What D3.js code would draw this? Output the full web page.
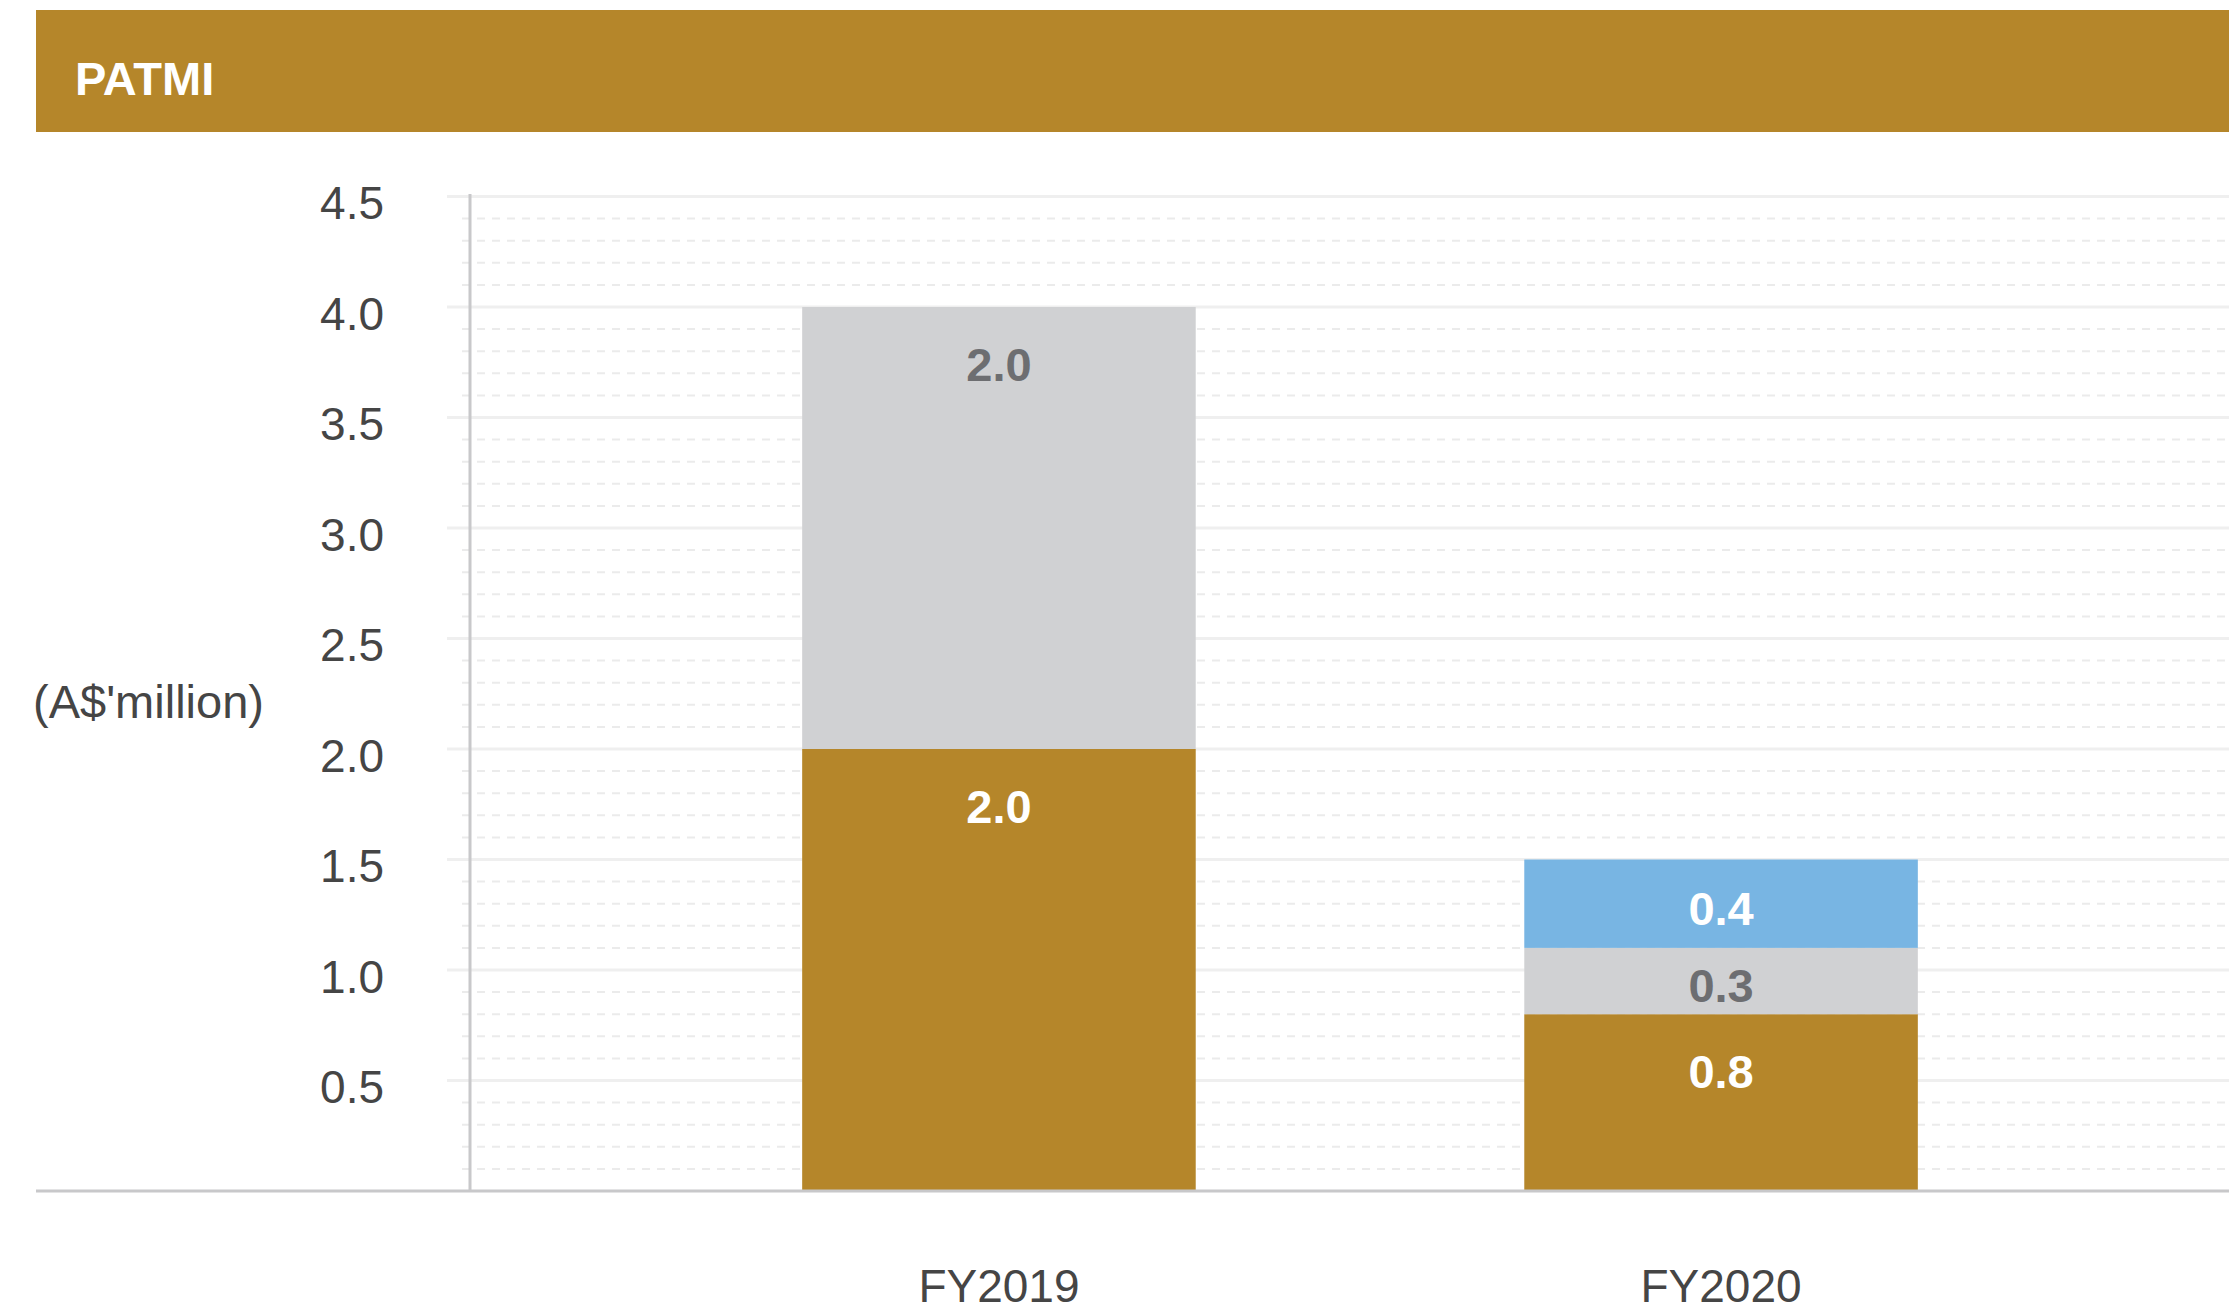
<!DOCTYPE html>
<html>
<head>
<meta charset="utf-8">
<script src="https://cdn.jsdelivr.net/npm/d3@7"></script>
<style>
  html, body { margin: 0; padding: 0; background: #ffffff; }
  svg { display: block; }
  text { font-family: "Liberation Sans", Arial, Helvetica, sans-serif; }
</style>
</head>
<body>
<svg id="chart" width="2229" height="1311"></svg>
<script>
// PATMI by financial year, stacked components (A$ million)
const categories = ["FY2019", "FY2020"];
const seriesKeys = ["base", "middle", "top"];
const baseValues = [2.0, 0.8];
const middleValues = [2.0, 0.3];
const topValues = [0, 0.4];
const yTicks = [0.5, 1.0, 1.5, 2.0, 2.5, 3.0, 3.5, 4.0, 4.5];
const minorTicks = d3.range(1, 45).map(i => i / 10).filter(v => Math.round(v * 10) % 5 !== 0);
const title = "PATMI";
const unitLabel = "(A$'million)";

const colors = { base: "#b5862a", middle: "#d0d1d3", top: "#78b5e3" };
const labelColors = { base: "#ffffff", middle: "#6d6e71", top: "#ffffff" };

const rows = categories.map((c, i) => ({
  category: c, base: baseValues[i], middle: middleValues[i], top: topValues[i]
}));

const W = 2229, H = 1311;
const axisX = 470;
const svg = d3.select("#chart");

const x = d3.scaleBand()
  .domain(categories)
  .range([axisX, 2250])
  .paddingInner(0.455)
  .paddingOuter(0.46);

const y = d3.scaleLinear().domain([0, 4.5]).range([1191, 196.5]);

// header band
svg.append("rect")
  .attr("x", 36).attr("y", 10)
  .attr("width", W - 36).attr("height", 122)
  .attr("fill", "#b5862a");
svg.append("text")
  .attr("x", 75).attr("y", 95)
  .attr("fill", "#ffffff")
  .attr("font-size", 47)
  .attr("font-weight", "bold")
  .text(title);

// minor dashed gridlines
svg.append("g")
  .selectAll("line")
  .data(minorTicks)
  .join("line")
  .attr("x1", 462).attr("x2", W)
  .attr("y1", d => y(d)).attr("y2", d => y(d))
  .attr("stroke", "#ebebeb")
  .attr("stroke-width", 2)
  .attr("stroke-dasharray", "8 7");

// major gridlines
svg.append("g")
  .selectAll("line")
  .data(yTicks)
  .join("line")
  .attr("x1", 447).attr("x2", W)
  .attr("y1", d => y(d)).attr("y2", d => y(d))
  .attr("stroke", "#efefef")
  .attr("stroke-width", 3);

// y tick labels
const yAxis = d3.axisLeft(y)
  .tickValues(yTicks)
  .tickFormat(d3.format(".1f"))
  .tickSize(0)
  .tickPadding(0);
const gy = svg.append("g")
  .attr("transform", "translate(384,0)")
  .call(yAxis);
gy.select(".domain").remove();
gy.selectAll("text")
  .attr("font-family", "Liberation Sans, Arial, sans-serif")
  .attr("font-size", 46)
  .attr("fill", "#454545")
  .attr("dy", "0.48em");

// unit label
svg.append("text")
  .attr("x", 33).attr("y", 718)
  .attr("font-size", 47)
  .attr("fill", "#454545")
  .text(unitLabel);

// stacked bars
const stacked = d3.stack().keys(seriesKeys)(rows);
const layers = svg.append("g")
  .selectAll("g")
  .data(stacked)
  .join("g")
  .attr("fill", d => colors[d.key]);

layers.selectAll("rect")
  .data(d => d.filter(s => s[1] - s[0] > 0))
  .join("rect")
  .attr("x", d => x(d.data.category))
  .attr("width", x.bandwidth())
  .attr("y", d => y(d[1]))
  .attr("height", d => y(d[0]) - y(d[1]));

// value labels inside segments
const labels = svg.append("g");
stacked.forEach(layer => {
  layer.forEach(seg => {
    const v = seg[1] - seg[0];
    if (v <= 0) return;
    const top = y(seg[1]);
    const h = y(seg[0]) - top;
    const cy = top + Math.min(h / 2 + 4, 57);
    labels.append("text")
      .attr("x", x(seg.data.category) + x.bandwidth() / 2)
      .attr("y", cy + 17)
      .attr("text-anchor", "middle")
      .attr("font-size", 47)
      .attr("font-weight", "bold")
      .attr("fill", labelColors[layer.key])
      .text(d3.format(".1f")(v));
  });
});

// y axis line
svg.append("line")
  .attr("x1", axisX).attr("x2", axisX)
  .attr("y1", 194).attr("y2", 1191)
  .attr("stroke", "#c8c8ca")
  .attr("stroke-width", 3);

// x baseline
svg.append("line")
  .attr("x1", 36).attr("x2", W)
  .attr("y1", 1191).attr("y2", 1191)
  .attr("stroke", "#c8c8ca")
  .attr("stroke-width", 3);

// category labels
const xAxis = d3.axisBottom(x).tickSize(0).tickPadding(0);
const gx = svg.append("g")
  .attr("transform", "translate(0,1302)")
  .call(xAxis);
gx.select(".domain").remove();
gx.selectAll("text")
  .attr("font-family", "Liberation Sans, Arial, sans-serif")
  .attr("font-size", 46)
  .attr("fill", "#454545")
  .attr("dy", 0);
</script>
</body>
</html>
